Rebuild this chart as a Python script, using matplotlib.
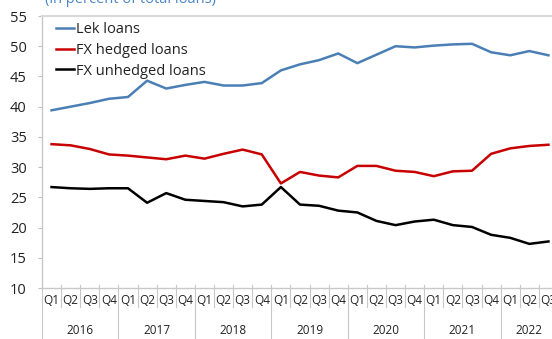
import matplotlib
matplotlib.use("Agg")
import matplotlib.pyplot as plt
import matplotlib.transforms as mtransforms

plt.rcParams['font.family'] = ['Open Sans', 'DejaVu Sans']

# quarters Q1 2016 .. Q3 2022
years = ["2016", "2017", "2018", "2019", "2020", "2021", "2022"]
quarters = ["Q1", "Q2", "Q3", "Q4"] * 6 + ["Q1", "Q2", "Q3"]

lek = [39.4, 40.0, 40.6, 41.3, 41.6, 44.3, 43.0, 43.6, 44.1, 43.5, 43.5, 43.9,
       46.0, 47.0, 47.7, 48.8, 47.2, 48.6, 50.0, 49.8, 50.1, 50.3, 50.4,
       49.0, 48.5, 49.2, 48.5]
fx_hedged = [33.8, 33.6, 33.0, 32.1, 31.9, 31.6, 31.3, 31.9, 31.4, 32.2, 32.9, 32.1,
             27.3, 29.2, 28.6, 28.3, 30.2, 30.2, 29.4, 29.2, 28.5, 29.3, 29.4,
             32.2, 33.1, 33.5, 33.7]
fx_unhedged = [26.7, 26.5, 26.4, 26.5, 26.5, 24.1, 25.7, 24.6, 24.4, 24.2, 23.5, 23.8,
               26.7, 23.8, 23.6, 22.8, 22.5, 21.1, 20.4, 21.0, 21.3, 20.4, 20.1,
               18.8, 18.3, 17.3, 17.7]

fig = plt.figure(figsize=(5.52, 3.39), dpi=100)
W, H = 552.0, 339.0
# axis spans past the right edge, the last quarter is cut like in the source
ax = fig.add_axes([42 / W, (H - 288) / H, (558 - 42) / W, 272 / H])

x = list(range(len(quarters)))
ax.plot(x, lek, color="#4a7fb5", lw=1.8, label="Lek loans")
ax.plot(x, fx_hedged, color="#c80000", lw=1.8, label="FX hedged loans")
ax.plot(x, fx_unhedged, color="black", lw=1.8, label="FX unhedged loans")

ax.set_xlim(-0.5, len(quarters) - 0.5)
ax.set_ylim(10, 55)
ax.set_yticks(range(10, 56, 5))
ax.tick_params(axis="y", labelsize=10.5, length=3, color="#bfbfbf", pad=8, labelcolor="#222222")
ax.set_xticks([])

grey = "#c8c8c8"
ax.spines["right"].set_visible(False)
for s in ["left", "bottom", "top"]:
    ax.spines[s].set_color(grey)
    ax.spines[s].set_linewidth(1.0)
ax.spines["top"].set_color("#d9d9d9")
ax.spines["top"].set_linewidth(1.5)

# category axis: quarter labels, year labels and separators
trans = mtransforms.blended_transform_factory(ax.transData, ax.transAxes)
px = 1 / 272.0
for i, q in enumerate(quarters):
    ax.text(i, -13 * px, q, transform=trans, ha="center", va="center",
            fontsize=8.5, color="#222222")
for i in range(len(quarters) + 1):
    xb = i - 0.5
    if i % 4 == 0:
        y1 = -51 * px
    else:
        y1 = -19 * px
    ax.plot([xb, xb], [3 * px, y1], transform=trans, color=grey, lw=0.8, clip_on=False)
for k, yr in enumerate(years):
    n = min(4, len(quarters) - 4 * k)
    xc = 4 * k + (n - 1) / 2.0
    ax.text(xc, -42 * px, yr, transform=trans, ha="center", va="center",
            fontsize=8.5, color="#222222")

leg = ax.legend(loc="upper left", bbox_to_anchor=(53 / W, (H - 19) / H),
                bbox_transform=fig.transFigure, frameon=False, fontsize=10.5,
                handlelength=1.25, handletextpad=0.15, labelspacing=0.4,
                borderaxespad=0, borderpad=0.2)
for t in leg.get_texts():
    t.set_color("#222222")

fig.text(45 / W, (H - 3) / H, "(in percent of total loans)", ha="left", va="baseline",
         fontsize=10.5, color="#4a86c8")

fig.savefig("out.png", dpi=100)
